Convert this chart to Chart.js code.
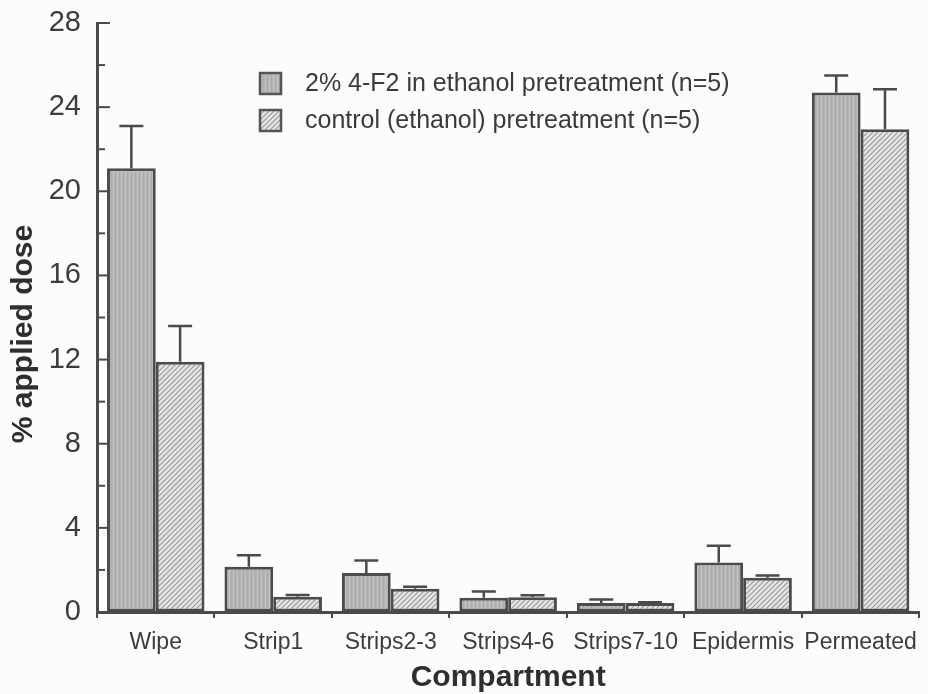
<!DOCTYPE html>
<html>
<head>
<meta charset="utf-8">
<script src="https://cdn.jsdelivr.net/npm/chart.js@4/dist/chart.umd.min.js"></script>
<style>
  html, body { margin: 0; padding: 0; background: #fcfcfc; }
  #wrap { width: 928px; height: 694px; }
</style>
</head>
<body>
<div id="wrap"><canvas id="chart" width="928" height="694"></canvas></div>
<script>
// Compartments sampled after application
const compartments = ['Wipe', 'Strip1', 'Strips2-3', 'Strips4-6', 'Strips7-10', 'Epidermis', 'Permeated'];

// % of applied dose, mean and upper error (SD)
const f2Mean = [21.1, 2.15, 1.85, 0.68, 0.43, 2.35, 24.7];
const f2Err = [2.0, 0.55, 0.6, 0.3, 0.16, 0.8, 0.8];
const ctrlMean = [11.9, 0.73, 1.1, 0.7, 0.43, 1.63, 22.95];
const ctrlErr = [1.7, 0.08, 0.1, 0.1, 0.03, 0.1, 1.9];

const seriesLabels = ['2% 4-F2 in ethanol pretreatment (n=5)', 'control (ethanol) pretreatment (n=5)'];
const yTicks = [0, 4, 8, 12, 16, 20, 24, 28];
const xTitle = 'Compartment';
const yTitle = '% applied dose';

const FONT = '"Liberation Sans", Arial, Helvetica, sans-serif';
const INK = '#4a4a4a';

// Fill patterns: fine stippled grey and diagonal hatch
function stipplePattern() {
  const c = document.createElement('canvas');
  c.width = 4; c.height = 4;
  const g = c.getContext('2d');
  g.fillStyle = '#b3b3b3';
  g.fillRect(0, 0, 4, 4);
  g.fillStyle = '#c3c3c3';
  g.fillRect(1, 0, 1, 4);
  g.fillStyle = '#a9a9a9';
  g.fillRect(3, 1, 1, 1);
  g.fillRect(3, 3, 1, 1);
  return g.createPattern(c, 'repeat');
}
function hatchPattern() {
  const s = 5;
  const c = document.createElement('canvas');
  c.width = s; c.height = s;
  const g = c.getContext('2d');
  g.fillStyle = '#e6e6e6';
  g.fillRect(0, 0, s, s);
  g.strokeStyle = '#9a9a9a';
  g.lineWidth = 1.2;
  g.beginPath();
  g.moveTo(0, s); g.lineTo(s, 0);
  g.moveTo(-1, 1); g.lineTo(1, -1);
  g.moveTo(s - 1, s + 1); g.lineTo(s + 1, s - 1);
  g.stroke();
  return g.createPattern(c, 'repeat');
}
const f2Fill = stipplePattern();
const ctrlFill = hatchPattern();

const errorsByDataset = [f2Err, ctrlErr];

// Upward-only error bars with caps
const errorBars = {
  id: 'errorBars',
  afterDatasetsDraw(chart) {
    const ctx = chart.ctx;
    const y = chart.scales.y;
    ctx.save();
    ctx.strokeStyle = INK;
    ctx.lineWidth = 2.5;
    chart.data.datasets.forEach((ds, di) => {
      const meta = chart.getDatasetMeta(di);
      meta.data.forEach((bar, i) => {
        const top = y.getPixelForValue(ds.data[i] + errorsByDataset[di][i]);
        const half = 12;
        ctx.beginPath();
        ctx.moveTo(bar.x, bar.y);
        ctx.lineTo(bar.x, top);
        ctx.moveTo(bar.x - half, top);
        ctx.lineTo(bar.x + half, top);
        ctx.stroke();
      });
    });
    ctx.restore();
  }
};

// Inward y ticks, titles and legend
const decorations = {
  id: 'decorations',
  afterDraw(chart) {
    const ctx = chart.ctx;
    const y = chart.scales.y;
    const area = chart.chartArea;
    ctx.save();
    ctx.strokeStyle = INK;
    ctx.lineWidth = 2;
    for (let v = 0; v <= 28; v += 2) {
      const py = y.getPixelForValue(v);
      const len = v % 4 === 0 ? 13 : 8;
      ctx.beginPath();
      ctx.moveTo(area.left, py);
      ctx.lineTo(area.left + len, py);
      ctx.stroke();
    }

    // axis titles
    ctx.fillStyle = '#2e2e2e';
    ctx.font = 'bold 30px ' + FONT;
    ctx.textAlign = 'center';
    ctx.textBaseline = 'middle';
    ctx.fillText(xTitle, (area.left + area.right) / 2, 678);
    ctx.save();
    ctx.translate(24, 334);
    ctx.rotate(-Math.PI / 2);
    ctx.fillText(yTitle, 0, 0);
    ctx.restore();

    // legend
    const fills = [f2Fill, ctrlFill];
    const rows = [83, 120];
    ctx.font = '25px ' + FONT;
    ctx.textAlign = 'left';
    seriesLabels.forEach((lbl, i) => {
      const by = rows[i] - 10;
      ctx.fillStyle = fills[i];
      ctx.fillRect(260, by, 21, 21);
      ctx.strokeStyle = '#555';
      ctx.lineWidth = 2.5;
      ctx.strokeRect(260, by, 21, 21);
      ctx.fillStyle = '#3a3a3a';
      ctx.fillText(lbl, 305, rows[i] + 1);
    });
    ctx.restore();
  }
};

new Chart(document.getElementById('chart'), {
  type: 'bar',
  data: {
    labels: compartments,
    datasets: [
      {
        label: seriesLabels[0],
        data: f2Mean,
        backgroundColor: f2Fill,
        borderColor: '#4c4c4c',
        borderWidth: 3,
        borderSkipped: false,
        barPercentage: 1.0,
        categoryPercentage: 0.83
      },
      {
        label: seriesLabels[1],
        data: ctrlMean,
        backgroundColor: ctrlFill,
        borderColor: '#4c4c4c',
        borderWidth: 3,
        borderSkipped: false,
        barPercentage: 1.0,
        categoryPercentage: 0.83
      }
    ]
  },
  options: {
    responsive: false,
    animation: false,
    devicePixelRatio: 1,
    layout: { padding: { top: 23, right: 2, left: 0, bottom: 0 } },
    plugins: {
      legend: { display: false },
      tooltip: { enabled: false }
    },
    scales: {
      x: {
        grid: {
          offset: true,
          drawOnChartArea: false,
          drawTicks: true,
          tickLength: 6,
          color: INK,
          lineWidth: 2
        },
        border: { display: true, color: INK, width: 3 },
        ticks: {
          color: '#3c3c3c',
          font: { family: FONT, size: 23 },
          padding: 11,
          autoSkip: false,
          maxRotation: 0,
          minRotation: 0
        },
        afterFit(s) { s.height = 82; }
      },
      y: {
        min: 0,
        max: 28,
        afterBuildTicks(s) { s.ticks = yTicks.map(v => ({ value: v })); },
        grid: { display: true, drawOnChartArea: false, drawTicks: false },
        border: { display: true, color: INK, width: 3 },
        ticks: {
          color: '#3c3c3c',
          font: { family: FONT, size: 29 },
          padding: 16
        },
        afterFit(s) {
          s.width = 97;
          s.paddingTop = 0;
          s.paddingBottom = 0;
        }
      }
    }
  },
  plugins: [errorBars, decorations]
});
</script>
</body>
</html>
